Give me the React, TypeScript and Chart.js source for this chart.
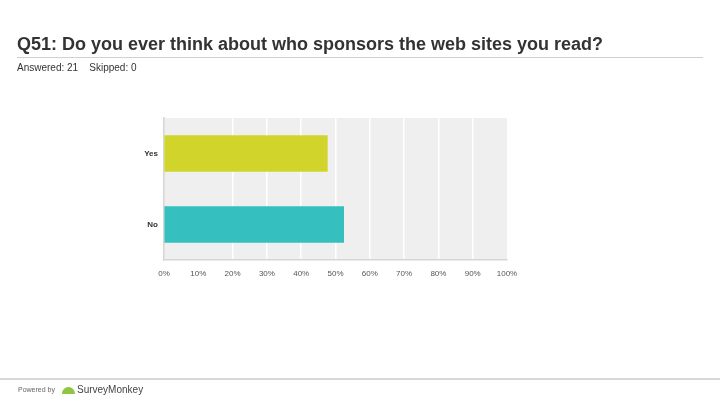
import React, { useEffect, useRef } from "react";
import { Chart, registerables } from "chart.js";

Chart.register(...registerables);

const categories = ["Yes", "No"];
const values = [47.62, 52.38];
const barColors = ["#d1d42a", "#35bfbf"];
const xTicks = [0, 10, 20, 30, 40, 50, 60, 70, 80, 90, 100];

const bgPlugin = {
  id: "plotBg",
  beforeDraw(chart: any) {
    const { ctx, chartArea } = chart;
    ctx.save();
    ctx.fillStyle = "#efefef";
    ctx.fillRect(chartArea.left, chartArea.top, chartArea.right - chartArea.left, chartArea.bottom - chartArea.top);
    ctx.restore();
  },
};

export default function App() {
  const ref = useRef<HTMLCanvasElement>(null);
  useEffect(() => {
    const chart = new Chart(ref.current!, {
      type: "bar",
      data: {
        labels: categories,
        datasets: [
          {
            data: values,
            backgroundColor: barColors,
            barThickness: 36,
          },
        ],
      },
      plugins: [bgPlugin],
      options: {
        indexAxis: "y",
        animation: false,
        responsive: false,
        maintainAspectRatio: false,
        layout: { padding: { left: 0, top: 118, right: 213, bottom: 115 } },
        plugins: { legend: { display: false }, tooltip: { enabled: false } },
        scales: {
          x: {
            min: 0,
            max: 100,
            afterBuildTicks(scale: any) {
              scale.ticks = xTicks.map((v) => ({ value: v }));
            },
            afterFit(scale: any) {
              scale.height = 30;
            },
            grid: {
              color: (c: any) => (c.index === 1 || c.index === 0 || c.index === 10 ? "rgba(0,0,0,0)" : "#ffffff"),
              lineWidth: 1.5,
              drawTicks: false,
            },
            border: { display: true, color: "#d6d6d6", width: 1.5 },
            ticks: {
              padding: 9,
              color: "#555",
              font: { family: "Liberation Sans", size: 8 },
              callback: (v: any) => v + "%",
            },
          },
          y: {
            afterFit(scale: any) {
              scale.width = 164;
            },
            grid: { display: false, drawTicks: false },
            border: { display: true, color: "#d6d6d6", width: 1.5 },
            ticks: {
              padding: 6,
              color: "#333",
              font: { family: "Liberation Sans", size: 8, weight: "bold" },
            },
          },
        },
      },
    });
    return () => chart.destroy();
  }, []);

  return (
    <div style={{ position: "absolute", left: 0, top: 0, width: 720, height: 405, background: "#fff", fontFamily: "Liberation Sans, Arial, sans-serif", overflow: "hidden" }}>
      <canvas ref={ref} width={720} height={405} style={{ position: "absolute", left: 0, top: 0, width: 720, height: 405 }} />
      <div style={{ position: "absolute", left: 17, top: 34, fontSize: 18, fontWeight: "bold", color: "#333", whiteSpace: "nowrap" }}>
        Q51: Do you ever think about who sponsors the web sites you read?
      </div>
      <div style={{ position: "absolute", left: 17, top: 57, width: 686, height: 1, background: "#d0d0d0" }} />
      <div style={{ position: "absolute", left: 17, top: 62, fontSize: 10, color: "#333", whiteSpace: "nowrap" }}>
        Answered: 21&nbsp;&nbsp;&nbsp; Skipped: 0
      </div>
      <div style={{ position: "absolute", left: 0, top: 378, width: 720, height: 2, background: "#d8d8d8" }} />
      <div style={{ position: "absolute", left: 18, top: 386, fontSize: 7, color: "#666", whiteSpace: "nowrap" }}>Powered by</div>
      <div style={{ position: "absolute", left: 62, top: 387, width: 13, height: 7, borderTopLeftRadius: 7, borderTopRightRadius: 7, background: "#8ec63f" }} />
      <div style={{ position: "absolute", left: 77, top: 384, fontSize: 10, color: "#444", whiteSpace: "nowrap" }}>SurveyMonkey</div>
    </div>
  );
}
